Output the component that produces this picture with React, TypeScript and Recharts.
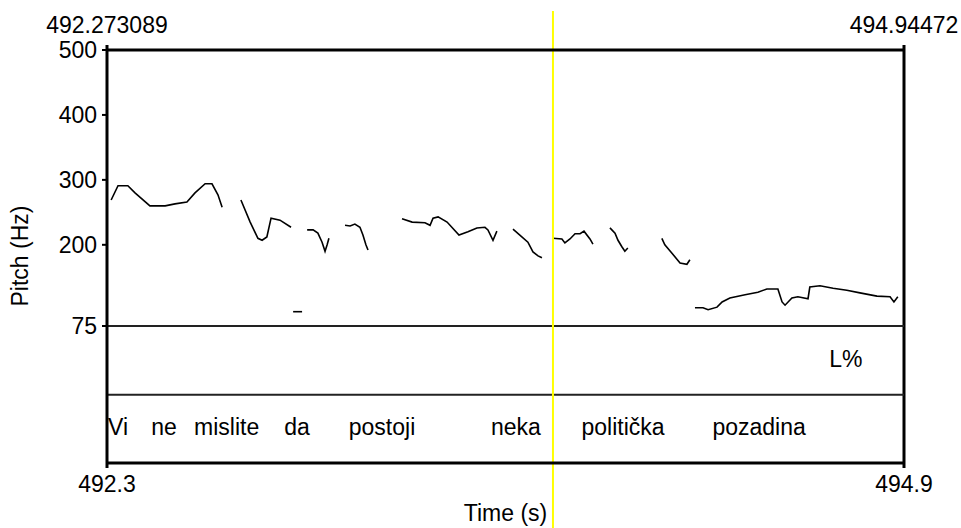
import { Label, Line, LineChart, ReferenceDot, ReferenceLine, XAxis, YAxis } from 'recharts';

const FONT = '"Liberation Sans", Arial, sans-serif';
const FS = 23;

// time window of the selection (s)
const T_START = 492.273089;
const T_END = 494.94472;
const CURSOR_T = 493.768;

const timeTicks = [T_START, T_END];
const pitchTicks = [75, 200, 300, 400, 500];

// the text grids sit below the pitch floor, expressed in the same Hz units
const Y_FLOOR = -136;
const TIER_SPLIT = -31;
const TONE_Y = 24;
const WORD_Y = -80;
const CURSOR_TOP = 560;
const CURSOR_BOTTOM = -236;

type Pt = { t: number; f: number };
const pts = (pairs: number[][]): Pt[] => pairs.map(([t, f]) => ({ t, f }));

// pitch contour pieces: [time s, F0 Hz]
const contour1 = pts([
  [492.287, 269], [492.31, 291], [492.343, 291], [492.367, 280], [492.417, 260],
  [492.468, 260], [492.501, 263], [492.541, 266], [492.568, 280], [492.602, 294],
  [492.625, 294], [492.645, 277], [492.659, 258],
]);
const contour2 = pts([
  [492.722, 269], [492.753, 235], [492.779, 210], [492.793, 207], [492.809, 212],
  [492.823, 241], [492.853, 238], [492.89, 227],
]);
const blip = pts([[492.897, 97], [492.927, 97]]);
const contour3 = pts([
  [492.944, 223], [492.964, 223], [492.98, 218], [492.994, 204], [493.004, 190],
  [493.011, 200], [493.017, 210],
]);
const contour4 = pts([
  [493.071, 230], [493.088, 229], [493.104, 232], [493.121, 227], [493.131, 215],
  [493.141, 200], [493.148, 192],
]);
const contour5 = pts([
  [493.262, 240], [493.296, 235], [493.339, 234], [493.356, 230], [493.366, 241],
  [493.383, 243], [493.413, 235], [493.453, 215], [493.483, 220], [493.513, 226],
  [493.54, 227], [493.55, 223], [493.567, 207], [493.58, 221],
]);
const contour6 = pts([
  [493.634, 224], [493.657, 215], [493.684, 204], [493.701, 189], [493.718, 183],
  [493.731, 180],
]);
const contour7 = pts([
  [493.768, 210], [493.798, 209], [493.808, 203], [493.825, 209], [493.842, 217],
  [493.859, 217], [493.872, 221], [493.892, 209], [493.902, 201],
]);
const contour8 = pts([
  [493.959, 226], [493.976, 218], [493.986, 207], [493.999, 197], [494.009, 190],
  [494.019, 195],
]);
const contour9 = pts([
  [494.133, 210], [494.143, 200], [494.167, 187], [494.194, 172], [494.217, 170],
  [494.227, 177],
]);
const contour10 = pts([
  [494.244, 103], [494.271, 103], [494.288, 100], [494.318, 104], [494.335, 112],
  [494.361, 118], [494.412, 123], [494.455, 127], [494.485, 132], [494.522, 132],
  [494.536, 112], [494.546, 107], [494.569, 118], [494.589, 120], [494.623, 117],
  [494.629, 135], [494.663, 137], [494.707, 133], [494.753, 130], [494.797, 126],
  [494.854, 121], [494.898, 120], [494.911, 112], [494.924, 120],
]);
const contours = [contour1, contour2, blip, contour3, contour4, contour5, contour6, contour7, contour8, contour9, contour10];

const words = ['Vi', 'ne', 'mislite', 'da', 'postoji', 'neka', 'politička', 'pozadina'];
const wordTimes = [492.31, 492.464, 492.674, 492.91, 493.195, 493.644, 494.003, 494.459];
const tones = ['L%'];
const toneTimes = [494.75];

const PitchLabel = () => (
  <text
    x={28}
    y={256}
    transform="rotate(-90 28 256)"
    textAnchor="middle"
    fill="#000"
    fontSize={FS}
  >
    Pitch (Hz)
  </text>
);

const axisStroke = { stroke: '#000', strokeWidth: 3 };
const tickStyle = { fill: '#000', fontSize: FS };

export default function App() {
  return (
    <div style={{ position: 'absolute', left: 0, top: 0, fontFamily: FONT, background: '#fff' }}>
      <LineChart width={961} height={528} margin={{ top: 20, right: 57, bottom: 35, left: 47 }}>
        <XAxis
          xAxisId="b"
          type="number"
          dataKey="t"
          domain={[T_START, T_END]}
          ticks={timeTicks}
          interval={0}
          allowDataOverflow
          tickFormatter={(v: number) => v.toFixed(1)}
          axisLine={axisStroke}
          tickLine={axisStroke}
          tickSize={5}
          tickMargin={8}
          height={30}
          tick={tickStyle}
        >
          <Label value="Time (s)" position="bottom" offset={12} fill="#000" fontSize={FS} />
        </XAxis>
        <XAxis
          xAxisId="t"
          orientation="top"
          type="number"
          dataKey="t"
          domain={[T_START, T_END]}
          ticks={timeTicks}
          interval={0}
          allowDataOverflow
          tickFormatter={(v: number) => String(v)}
          axisLine={axisStroke}
          tickLine={axisStroke}
          tickSize={5}
          tickMargin={12}
          height={30}
          tick={tickStyle}
        />
        <YAxis
          yAxisId="hz"
          type="number"
          domain={[Y_FLOOR, 500]}
          ticks={pitchTicks}
          interval={0}
          allowDataOverflow
          axisLine={axisStroke}
          tickLine={{ stroke: '#000', strokeWidth: 2 }}
          tickSize={5}
          tickMargin={5}
          width={60}
          tick={tickStyle}
        >
          <Label content={PitchLabel} />
        </YAxis>

        <ReferenceLine xAxisId="b" yAxisId="hz" x={T_END} stroke="#000" strokeWidth={3} />
        <ReferenceLine xAxisId="b" yAxisId="hz" y={75} stroke="#222" strokeWidth={2} />
        <ReferenceLine xAxisId="b" yAxisId="hz" y={TIER_SPLIT} stroke="#222" strokeWidth={2} />

        {contours.map((c, i) => (
          <Line
            key={i}
            xAxisId="b"
            yAxisId="hz"
            data={c}
            dataKey="f"
            type="linear"
            stroke="#000"
            strokeWidth={1.6}
            dot={false}
            activeDot={false}
            isAnimationActive={false}
          />
        ))}

        {tones.map((w, i) => (
          <ReferenceDot
            key={w}
            xAxisId="b"
            yAxisId="hz"
            x={toneTimes[i]}
            y={TONE_Y}
            r={0}
            fill="none"
            stroke="none"
            label={{ value: w, position: 'center', fill: '#000', fontSize: FS }}
          />
        ))}
        {words.map((w, i) => (
          <ReferenceDot
            key={w}
            xAxisId="b"
            yAxisId="hz"
            x={wordTimes[i]}
            y={WORD_Y}
            r={0}
            fill="none"
            stroke="none"
            label={{ value: w, position: 'center', fill: '#000', fontSize: FS }}
          />
        ))}

        <ReferenceLine
          xAxisId="b"
          yAxisId="hz"
          ifOverflow="visible"
          segment={[
            { x: CURSOR_T, y: CURSOR_TOP },
            { x: CURSOR_T, y: CURSOR_BOTTOM },
          ]}
          stroke="#ffff00"
          strokeWidth={2}
        />
      </LineChart>
    </div>
  );
}
